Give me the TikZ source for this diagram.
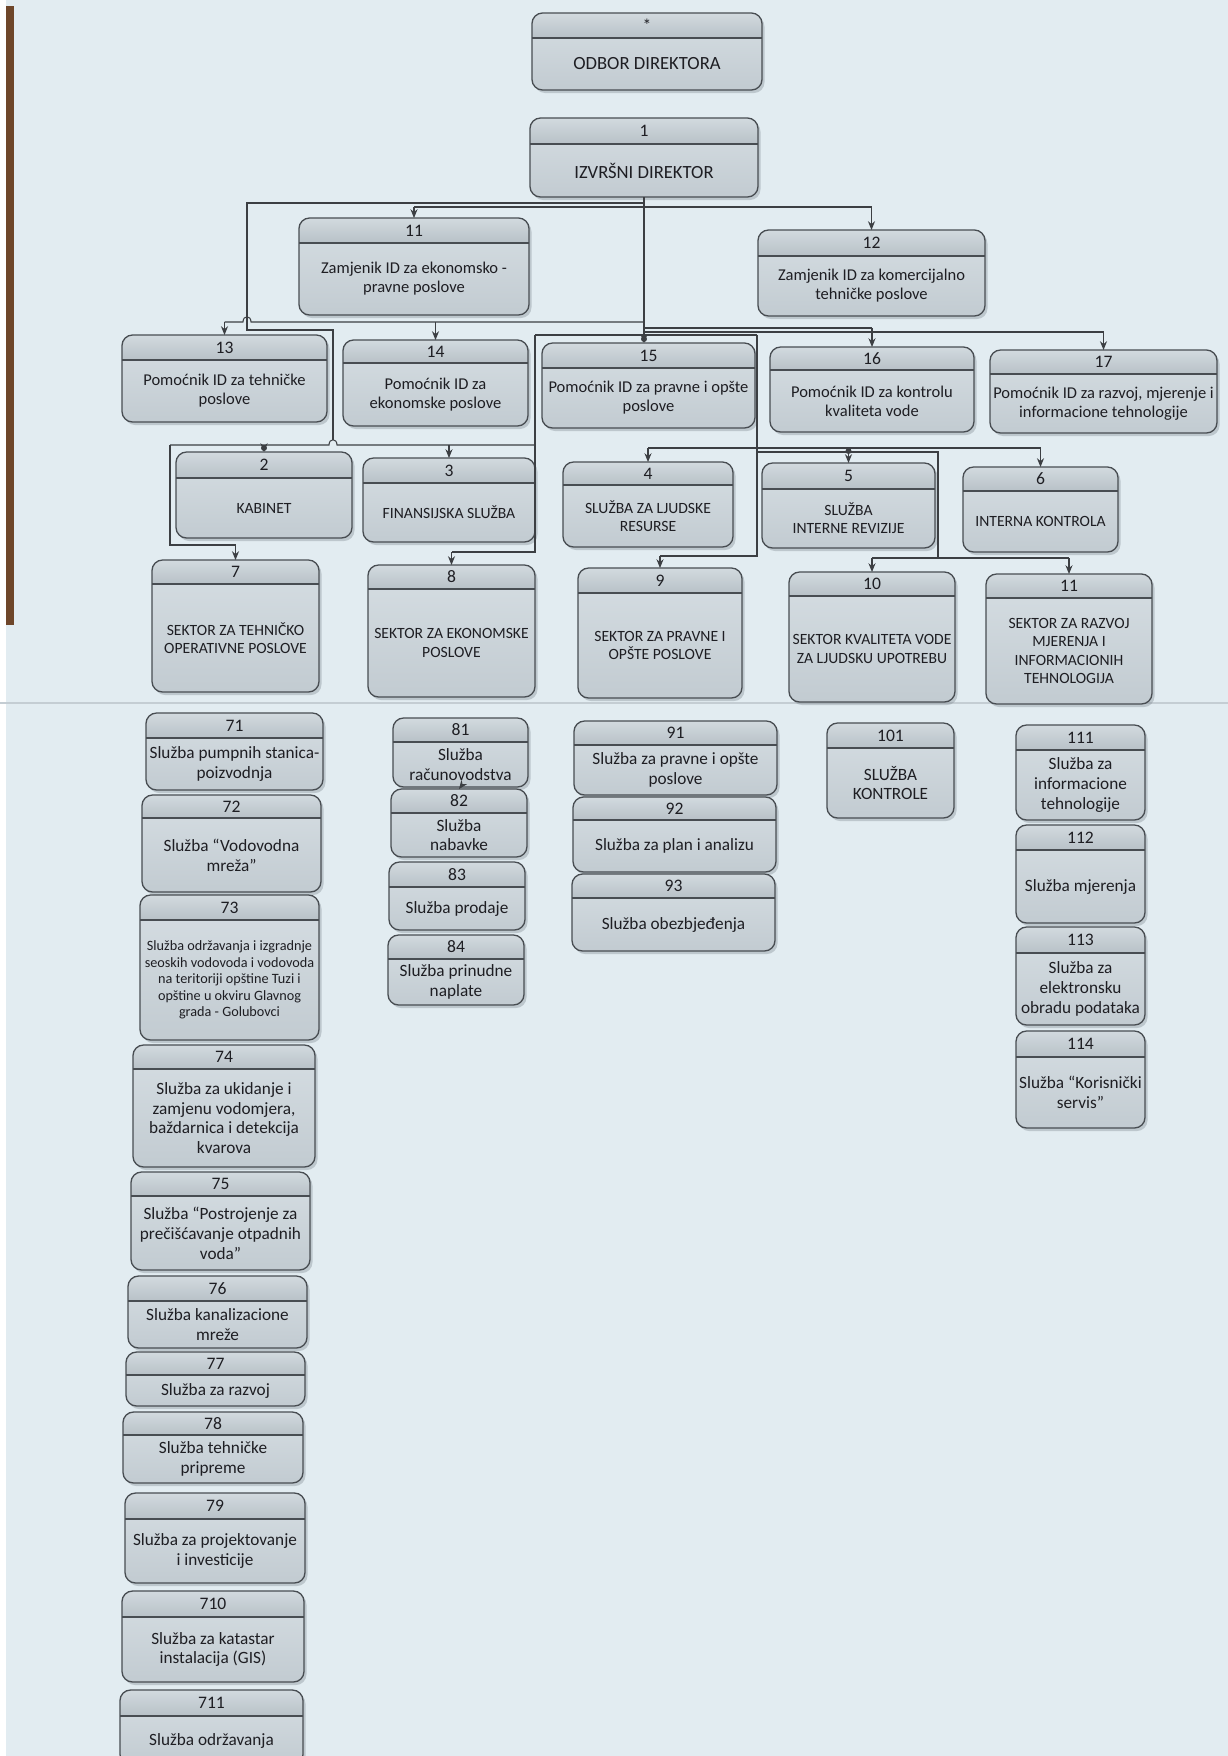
\documentclass[tikz,border=0pt]{standalone}
\usepackage{fontspec}
\setmainfont{Carlito}
\usetikzlibrary{arrows.meta}
\definecolor{paper}{RGB}{226,236,241}
\definecolor{bodytop}{RGB}{214,222,227}
\definecolor{bodybot}{RGB}{194,203,209}
\definecolor{hdrtop}{RGB}{210,218,223}
\definecolor{hdrbot}{RGB}{184,193,199}
\definecolor{bordc}{RGB}{72,77,82}
\definecolor{txtc}{RGB}{30,30,35}
\definecolor{linec}{RGB}{60,63,67}
\definecolor{shadc}{RGB}{120,130,138}
\definecolor{foldc}{RGB}{196,205,211}
\definecolor{woodc}{RGB}{110,70,42}
\newcommand\fsz[2]{\fontsize{#1}{#2}\selectfont}
\def\rcr{6pt}
\tikzset{
  boxnode/.style={draw=bordc, line width=0.75pt, rounded corners=6pt, inner sep=0pt, outer sep=0pt, rectangle},
  divln/.style={draw=bordc, line width=0.7pt},
  txt/.style={align=center, inner sep=0pt, text=txtc},
  tn/.style={font={\fsz{10}{12}}},
  tbig/.style={font={\fsz{10.6}{12.5}}},
  tmid/.style={font={\fsz{9.4}{10.8}}},
  tcap/.style={font={\fsz{8.9}{10.4}}},
  tlow/.style={font={\fsz{9.8}{11.3}}},
  tsmall/.style={font={\fsz{8.1}{9.4}}},
  conn/.style={draw=linec, line width=0.6pt},
  arr/.style={conn, -{Stealth[length=5pt,width=4pt]}},
}
\newcommand\obox[9]{%
  \fill[shadc, opacity=0.35, rounded corners=\rcr] (#2+2.5,#3+3) rectangle (#4+2.5,#5+3);
  \begin{scope}
    \clip[rounded corners=\rcr] (#2,#3) rectangle (#4,#5);
    \shade[top color=bodytop, bottom color=bodybot] (#2,#3) rectangle (#4,#5);
    \shade[top color=hdrtop, bottom color=hdrbot] (#2,#3) rectangle (#4,#6);
  \end{scope}
  \draw[divln] (#2,#6) -- (#4,#6);
  \node[boxnode, minimum width={(#4-#2)*0.02cm}, minimum height={(#5-#3)*0.02cm}] (#1) at ({(#2+#4)/2},{(#3+#5)/2}) {};
  \node[txt, tn] (#1n) at ({(#2+#4)/2},{(#3+#6)/2}) {#7};
  \node[txt, #9] (#1t) at ({(#2+#4)/2},{(#6+#5)/2}) {#8};
}
\begin{document}
\begin{tikzpicture}[x=0.02cm,y=-0.02cm]
\useasboundingbox (0,0) rectangle (1228,1756);
\clip (0,0) rectangle (1228,1756);
\fill[paper] (0,0) rectangle (1228,1756);
\fill[white] (0,0) rectangle (6,1756);
\fill[woodc] (6,6) rectangle (14,625);
\draw[foldc, line width=0.6pt] (0,703) -- (1228,703);

% ---- top levels
\obox{bOD}{532}{13}{762}{90}{38}{*}{ODBOR DIREKTORA}{tbig}
\obox{b1}{530}{118}{758}{197}{144}{1}{IZVRŠNI DIREKTOR}{tbig}
\obox{b11}{299}{218}{529}{315}{243}{11}{Zamjenik ID za ekonomsko -\\pravne poslove}{tmid}
\obox{b12}{758}{230}{985}{316}{256}{12}{Zamjenik ID za komercijalno\\tehničke poslove}{tmid}
\obox{b13}{122}{335}{327}{422}{360}{13}{Pomoćnik ID za tehničke\\poslove}{tmid}
\obox{b14}{343}{340}{528}{426}{363}{14}{Pomoćnik ID za\\ekonomske poslove}{tmid}
\obox{b15}{542}{343}{755}{428}{368}{15}{Pomoćnik ID za pravne i opšte\\poslove}{tmid}
\obox{b16}{770}{347}{974}{432}{370}{16}{Pomoćnik ID za kontrolu\\kvaliteta vode}{tmid}
\obox{b17}{990}{350}{1217}{433}{374}{17}{Pomoćnik ID za razvoj, mjerenje i\\informacione tehnologije}{tmid}

% ---- services 2-6
\obox{b2}{176}{452}{352}{538}{478}{2}{KABINET}{tcap}
\obox{b3}{363}{458}{535}{542}{483}{3}{FINANSIJSKA SLUŽBA}{tcap}
\obox{b4}{563}{462}{733}{547}{485}{4}{SLUŽBA ZA LJUDSKE\\RESURSE}{tcap}
\obox{b5}{762}{463}{935}{548}{489}{5}{SLUŽBA\\INTERNE REVIZIJE}{tcap}
\obox{b6}{963}{467}{1118}{552}{491}{6}{INTERNA KONTROLA}{tcap}

% ---- sectors 7-11
\obox{b7}{152}{560}{319}{692}{584}{7}{SEKTOR ZA TEHNIČKO\\OPERATIVNE POSLOVE}{tcap}
\obox{b8}{368}{565}{535}{697}{589}{8}{SEKTOR ZA EKONOMSKE\\POSLOVE}{tcap}
\obox{b9}{578}{568}{742}{698}{593}{9}{SEKTOR ZA PRAVNE I\\OPŠTE POSLOVE}{tcap}
\obox{b10}{789}{572}{955}{702}{596}{10}{SEKTOR KVALITETA VODE\\ZA LJUDSKU UPOTREBU}{tcap}
\obox{bS11}{986}{574}{1152}{704}{598}{11}{SEKTOR ZA RAZVOJ\\MJERENJA I\\INFORMACIONIH\\TEHNOLOGIJA}{tcap}

% ---- column 7x
\obox{b71}{146}{713}{323}{790}{738}{71}{Služba pumpnih stanica-\\poizvodnja}{tlow}
\obox{b72}{142}{795}{321}{892}{818}{72}{Služba “Vodovodna\\mreža”}{tlow}
\obox{b73}{140}{895}{319}{1040}{920}{73}{Služba održavanja i izgradnje\\seoskih vodovoda i vodovoda\\na teritoriji opštine Tuzi i\\opštine u okviru Glavnog\\grada - Golubovci}{tsmall}
\obox{b74}{133}{1045}{315}{1167}{1069}{74}{Služba za ukidanje i\\zamjenu vodomjera,\\baždarnica i detekcija\\kvarova}{tlow}
\obox{b75}{131}{1172}{310}{1270}{1196}{75}{Služba “Postrojenje za\\prečišćavanje otpadnih\\voda”}{tlow}
\obox{b76}{128}{1276}{307}{1348}{1301}{76}{Služba kanalizacione\\mreže}{tlow}
\obox{b77}{126}{1352}{305}{1406}{1375}{77}{Služba za razvoj}{tlow}
\obox{b78}{123}{1412}{303}{1483}{1435}{78}{Služba tehničke\\pripreme}{tlow}
\obox{b79}{125}{1493}{305}{1583}{1519}{79}{Služba za projektovanje\\i investicije}{tlow}
\obox{b710}{122}{1591}{304}{1682}{1617}{710}{Služba za katastar\\instalacija (GIS)}{tlow}
\obox{b711}{120}{1690}{303}{1765}{1716}{711}{Služba održavanja}{tlow}

% ---- column 8x
\obox{b81}{393}{718}{528}{787}{742}{81}{Služba\\računovodstva}{tlow}
\obox{b82}{391}{789}{527}{857}{813}{82}{Služba\\nabavke}{tlow}
\obox{b83}{389}{862}{525}{930}{887}{83}{Služba prodaje}{tlow}
\obox{b84}{388}{935}{524}{1005}{959}{84}{Služba prinudne\\naplate}{tlow}

% ---- column 9x
\obox{b91}{574}{721}{777}{795}{745}{91}{Služba za pravne i opšte\\poslove}{tlow}
\obox{b92}{573}{797}{776}{872}{820}{92}{Služba za plan i analizu}{tlow}
\obox{b93}{572}{874}{775}{951}{898}{93}{Služba obezbjeđenja}{tlow}

% ---- column 10x
\obox{b101}{827}{723}{954}{818}{748}{101}{SLUŽBA\\KONTROLE}{tlow}

% ---- column 11x
\obox{b111}{1016}{725}{1145}{820}{750}{111}{Služba za\\informacione\\tehnologije}{tlow}
\obox{b112}{1016}{825}{1145}{923}{850}{112}{Služba mjerenja}{tlow}
\obox{b113}{1016}{927}{1145}{1025}{953}{113}{Služba za\\elektronsku\\obradu podataka}{tlow}
\obox{b114}{1016}{1031}{1145}{1128}{1057}{114}{Služba “Korisnički\\servis”}{tlow}

% ---- bus levels
\coordinate (yA) at (0,203);
\coordinate (yB) at (0,207);
\coordinate (yC) at (0,322);
\coordinate (yD) at (0,328);
\coordinate (yE) at (0,332);
\coordinate (yF) at (0,335);
\coordinate (yG) at (0,445);
\coordinate (yH) at (0,448);
\coordinate (y7) at (0,545);
\coordinate (y8) at (0,552);
\coordinate (y9) at (0,556);
\coordinate (yJ) at (0,558);
\coordinate (xL) at (247,0);
\coordinate (xM) at (333,0);
\coordinate (xK) at (170,0);
\coordinate (xP) at (535,0);
\coordinate (xQ) at (757,0);
\coordinate (xR) at (938,0);

% trunk from executive director to 15
\draw[arr] (b1.south) -- (b1.south |- b15.north);
\fill[linec] (b1.south |- 0,339) circle (1.7pt);

% deputies 11 and 12
\draw[conn] (b11.north |- yB) -- (b12.north |- yB);
\draw[arr] (b11.north |- yB) -- (b11.north);
\draw[arr] (b12.north |- yB) -- (b12.north);

% left branch
\draw[conn] (b1.south |- yA) -- (xL |- yA) -- (xL |- 0,330) -- (xM |- 0,330) -- (xM |- 0,440);

% line to 13 and 14 (with hop over the left branch)
\draw[conn] (b1.south |- yC) -- (251,322) .. controls (251,315) and (243,315) .. (243,322) -- (b13.north |- yC);
\draw[arr] (b13.north |- yC) -- (b13.north);
\draw[arr] (b14.north |- yC) -- (b14.north);

% lines to 16 and 17
\draw[conn] (b1.south |- yD) -- (b16.north |- yD);
\draw[arr] (b16.north |- yD) -- (b16.north);
\draw[conn] (b1.south |- yE) -- (b17.north |- yE);
\draw[arr] (b17.north |- yE) -- (b17.north);

% line over 15
\draw[conn] (xP |- yF) -- (xQ |- yF);

% line to 2 and 3 (hop at x=333)
\draw[conn] (xK |- yG) -- (329,445) .. controls (329,438) and (337,438) .. (337,445) -- (xP |- yG);
\draw[arr] (b2.north |- yG) -- (b2.north);
\fill[linec] (b2.north |- 0,448) circle (1.7pt);
\draw[arr] (b3.north |- yG) -- (b3.north);

% to 7
\draw[conn] (xK |- yG) -- (xK |- y7) -- (b7.north |- y7);
\draw[arr] (b7.north |- y7) -- (b7.north);

% to 8
\draw[conn] (xP |- yF) -- (xP |- y8) -- (b8.north |- y8);
\draw[arr] (b8.north |- y8) -- (b8.north);

% to 9
\draw[conn] (xQ |- yF) -- (xQ |- y9) -- (b9.north |- y9);
\draw[arr] (b9.north |- y9) -- (b9.north);

% to 4, 5, 6
\draw[conn] (b4.north |- yH) -- (b6.north |- yH);
\draw[arr] (b4.north |- yH) -- (b4.north);
\draw[arr] (b5.north |- yH) -- (b5.north);
\fill[linec] (b5.north |- 0,451) circle (1.7pt);
\draw[arr] (b6.north |- yH) -- (b6.north);

% to 10 and 11
\draw[conn] (xQ |- 0,452) -- (xR |- 0,452) -- (xR |- yJ);
\draw[conn] (b10.north |- yJ) -- (bS11.north |- yJ);
\draw[arr] (b10.north |- yJ) -- (b10.north);
\draw[arr] (bS11.north |- yJ) -- (bS11.north);

% small arrow 81 -> 82
\draw[arr] (b81.south) -- (b82.north);
\end{tikzpicture}
\end{document}
